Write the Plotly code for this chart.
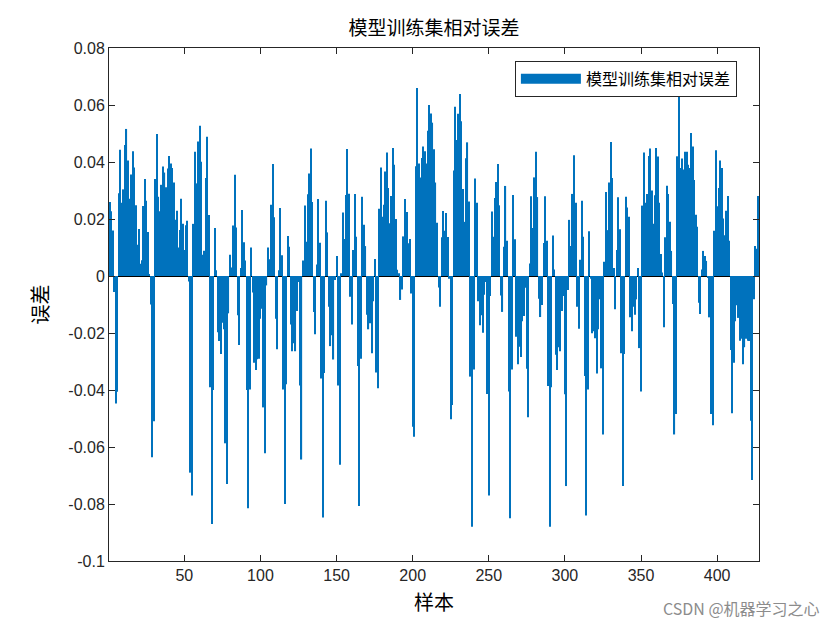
import numpy as np
import plotly.graph_objects as go

# relative error per training sample in six chunks
err_part1 = [0.026, 0.0227, 0.016, -0.0056, -0.0447, -0.0406, 0.029, 0.0443, 0.0257, 0.0304,
             0.046, 0.0516, 0.0405, 0.0271, 0.0356, 0.0438, 0.0381, 0.0248, 0.011, 0.0165,
             0.0043, 0.0055, 0.0246, 0.034, 0.0264, 0.0154, 0.0005, -0.010, -0.0636, -0.051,
             0.034, 0.0498, 0.0278, 0.0227, 0.032, 0.0384, 0.0363, 0.0311, 0.0377, 0.0421,
             0.0395, 0.0379, 0.0328, 0.0197, 0.0229, 0.010, 0.0161, 0.0271, 0.0183, 0.0091,
             0.0178, 0.0194, -0.0019, -0.069, -0.077, 0.0183, 0.0436, 0.0325, 0.0472, 0.0527,
             0.0401, 0.0075, 0.0089, 0.0344, 0.0489, 0.0214, -0.039, -0.087, -0.040, 0.0168,
             0.002]
err_part2 = [-0.0197, -0.0228, -0.0274, -0.0164, -0.0187, -0.0587, -0.073, -0.0131, 0.0075, 0.003,
             0.0177, 0.0355, 0.017, -0.0138, -0.0242, 0.0028, 0.0232, 0.0118, 0.0054, -0.040,
             -0.0815, -0.0398, 0.010, -0.0058, -0.0304, -0.033, -0.0292, -0.029, -0.015, -0.0115,
             -0.0461, -0.0622, -0.0033, 0.010, 0.0059, 0.025, 0.0393, 0.0206, -0.015, -0.0257,
             0.002, 0.0239, 0.0073, -0.0398, -0.080, -0.038, 0.014, 0.0103, -0.017, -0.0264,
             -0.0236, -0.0264, -0.0123, -0.0021, -0.0384, -0.0644, 0.0054, 0.0247, 0.012, 0.0287,
             0.036, 0.0447, 0.026, -0.0126, -0.0204, 0.004, 0.027, 0.0117, -0.036, -0.0847,
             -0.034, 0.0264]
err_part3 = [0.0153, -0.0108, -0.0246, -0.0208, -0.0293, -0.0014, 0.007, -0.0384, -0.0662, 0.001,
             0.0223, 0.013, 0.0284, 0.0446, 0.0289, -0.0073, -0.017, 0.0091, 0.0288, 0.0138,
             -0.0316, -0.0807, -0.029, 0.0278, 0.018, 0.0105, -0.0136, -0.0187, -0.0166, -0.0271,
             -0.0089, 0.006, -0.0339, -0.0394, 0.0236, 0.0381, 0.0208, 0.025, 0.0367, 0.0433,
             0.0309, 0.0185, 0.0281, 0.0449, 0.039, 0.020, 0.0022, 0.001, -0.0084, -0.0047,
             0.0139, 0.027, 0.0225, 0.0115, 0.013, -0.0061, -0.0529, -0.0564, 0.0385, 0.066,
             0.0395, 0.0346, 0.0414, 0.0454, 0.0438, 0.0395, 0.051, 0.060, 0.057, 0.0538,
             0.0445, 0.0328, 0.0187]
err_part4 = [-0.004, -0.0108, 0.0136, 0.0228, 0.0159, 0.0221, 0.0137, -0.001, -0.0503, -0.0453,
             0.037, 0.0594, 0.0477, 0.0569, 0.0639, 0.0543, 0.0305, 0.019, 0.0413, 0.0469,
             0.0261, -0.0353, -0.088, -0.0328, 0.0342, 0.0257, -0.0089, -0.0173, -0.0138, -0.0199,
             -0.0066, -0.0021, -0.0414, -0.077, -0.007, 0.0226, 0.0138, 0.0274, 0.033, 0.0393,
             0.0248, -0.0068, -0.0126, 0.0103, 0.0316, 0.0124, -0.0405, -0.085, -0.0328, 0.0284,
             0.0129, -0.0213, -0.031, -0.0248, -0.0284, -0.0159, -0.014, -0.0041, -0.0325, -0.0496,
             0.0044, 0.028, 0.0168, 0.0346, 0.0436, 0.0277, -0.008, -0.0144, -0.0102, 0.0116,
             0.028, 0.0124, -0.0386]
err_part5 = [-0.088, -0.039, 0.0142, 0.0023, -0.0276, -0.033, -0.025, -0.0264, -0.0123, -0.007,
             -0.0415, -0.0737, -0.0049, 0.0197, 0.0105, 0.0288, 0.0424, 0.0257, -0.0108, -0.0185,
             0.0057, 0.0264, 0.0138, -0.0351, -0.084, -0.0398, 0.0157, -0.001, -0.0201, -0.0194,
             -0.0218, -0.0342, -0.0187, -0.0082, -0.0324, -0.0556, 0.005, 0.0295, 0.0161, 0.0328,
             0.047, 0.0344, 0.0028, -0.0117, 0.0091, 0.0276, 0.0164, -0.0271, -0.0737, -0.0274,
             0.0278, 0.024, 0.0208, -0.0145, -0.0194, -0.0108, -0.0136, -0.0082, 0.0028, -0.0253,
             -0.0405, 0.0247, 0.0433, 0.0257, 0.0288, 0.0421, 0.0447, 0.03, 0.0183, 0.0283,
             0.0449, 0.0419]
err_part6 = [0.0257, 0.0077, 0.0012, -0.018, 0.0136, 0.0317, 0.0288, 0.019, 0.0088, -0.0098,
             -0.0556, -0.0484, 0.042, 0.0641, 0.0379, 0.0412, 0.0374, 0.0436, 0.0436, 0.039,
             0.0379, 0.0502, 0.0454, 0.0337, 0.0215, 0.0173, -0.0094, -0.0133, 0.0023, 0.0088,
             0.007, 0.0053, -0.0005, -0.0145, -0.0484, -0.0524, 0.0159, 0.0441, 0.0245, 0.0309,
             0.0405, 0.0379, 0.0202, 0.0143, 0.0229, 0.0281, 0.0124, -0.026, -0.0482, -0.0304,
             -0.0159, -0.0103, -0.0147, -0.0227, -0.022, -0.031, -0.025, -0.022, -0.0227, -0.0228,
             -0.0508, -0.0716, -0.0082, 0.0105, 0.0096, 0.0281]

y_tickvals = [-0.1, -0.08, -0.06, -0.04, -0.02, 0, 0.02, 0.04, 0.06, 0.08]
y_ticktext = ["-0.1", "-0.08", "-0.06", "-0.04", "-0.02", "0", "0.02", "0.04", "0.06", "0.08"]
x_tickvals = [50, 100, 150, 200, 250, 300, 350, 400]

errors = err_part1 + err_part2 + err_part3 + err_part4 + err_part5 + err_part6
samples = np.arange(1, len(errors) + 1)

BAR_COLOR = "#0072BD"
CJK = "Noto Sans CJK SC"

fig = go.Figure()
fig.add_trace(go.Bar(
    x=samples, y=errors, name="模型训练集相对误差", showlegend=False,
    marker=dict(color=BAR_COLOR, line=dict(width=0)),
))
# legend-only entry so the key gets MATLAB's wide patch
fig.add_trace(go.Scatter(
    x=[None], y=[None], mode="lines", name="模型训练集相对误差",
    line=dict(color=BAR_COLOR, width=16),
))

fig.update_layout(
    width=840, height=630,
    margin=dict(l=101, r=89, t=40, b=77),
    paper_bgcolor="white", plot_bgcolor="white",
    bargap=0.25,
    font=dict(family="Liberation Sans", size=16, color="#262626"),
    title=dict(text="模型训练集相对误差", x=0.5, xref="paper", xanchor="center",
               y=0.968, yref="container", yanchor="middle",
               font=dict(family=CJK, size=19, color="#000")),
    showlegend=True,
    legend=dict(x=0.966, y=0.975, xanchor="right", yanchor="top",
                itemwidth=60, tracegroupgap=0,
                bordercolor="#262626", borderwidth=1, bgcolor="white",
                font=dict(family=CJK, size=16, color="#000")),
    xaxis=dict(range=[0.5, len(errors) + 0.5], tickvals=x_tickvals,
               ticks="inside", ticklen=6, tickcolor="#262626",
               showline=True, linecolor="#262626", linewidth=1, mirror="ticks",
               showgrid=False, zeroline=False,
               title=dict(text="样本", font=dict(family=CJK, size=20, color="#000"), standoff=12)),
    yaxis=dict(range=[-0.1, 0.08], tickvals=y_tickvals, ticktext=y_ticktext,
               ticks="inside", ticklen=6, tickcolor="#262626",
               showline=True, linecolor="#262626", linewidth=1, mirror="ticks",
               showgrid=False, zeroline=True, zerolinecolor="#000", zerolinewidth=1,
               title=dict(text="误差", font=dict(family=CJK, size=20, color="#000"), standoff=14)),
)

fig.add_annotation(text="CSDN @机器学习之心", xref="paper", yref="paper",
                   x=1.097, y=-0.092, xanchor="right", yanchor="middle", showarrow=False,
                   font=dict(family=CJK, size=16, color="#8c8c8c"))

fig.write_html("out.html")
